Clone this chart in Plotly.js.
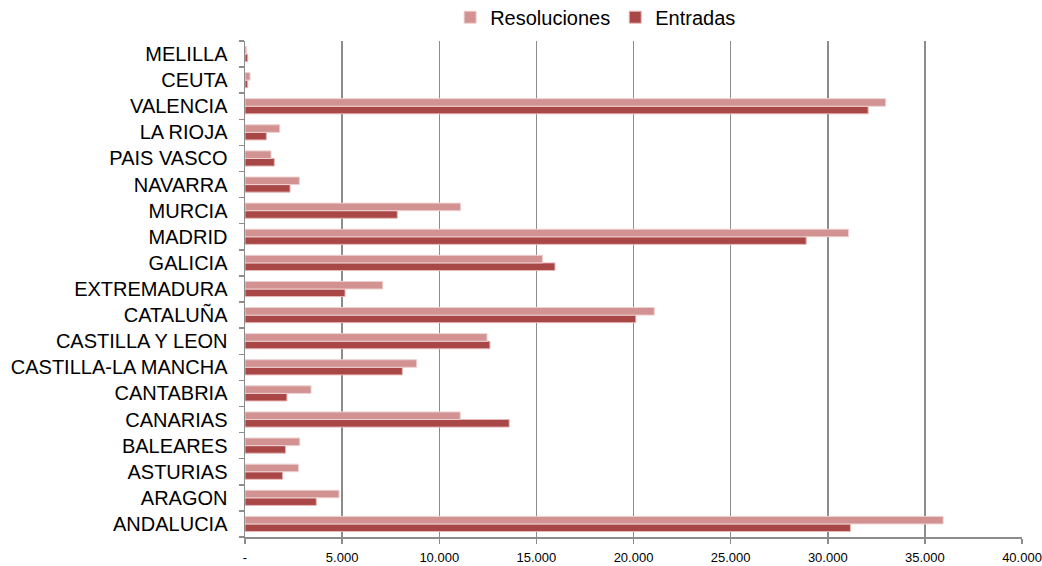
<!DOCTYPE html>
<html>
<head>
<meta charset="utf-8">
<script src="https://cdn.plot.ly/plotly-3.0.1.min.js"></script>
<style>body{margin:0;padding:0;background:#fff;}#chart{width:1042px;height:566px;}</style>
</head>
<body>
<div id="chart"></div>
<script>
const categories = ["ANDALUCIA","ARAGON","ASTURIAS","BALEARES","CANARIAS","CANTABRIA","CASTILLA-LA MANCHA","CASTILLA Y LEON","CATALUÑA","EXTREMADURA","GALICIA","MADRID","MURCIA","NAVARRA","PAIS VASCO","LA RIOJA","VALENCIA","CEUTA","MELILLA"];
const resoluciones = [35940,4840,2750,2820,11080,3400,8840,12460,21070,7090,15320,31070,11100,2800,1340,1790,32980,260,80];
const entradas = [31170,3670,1940,2090,13600,2160,8100,12610,20120,5150,15960,28890,7840,2320,1510,1100,32080,140,140];
const xTickVals = [0,5000,10000,15000,20000,25000,30000,35000,40000];
const xTickText = ["-","5.000","10.000","15.000","20.000","25.000","30.000","35.000","40.000"];

const traces = [
  {type:"bar", orientation:"h", name:"Entradas", y:categories, x:entradas,
   marker:{color:"#A94646", line:{color:"#E8B8B8", width:1}}},
  {type:"bar", orientation:"h", name:"Resoluciones", y:categories, x:resoluciones,
   marker:{color:"#D29292", line:{color:"#EDD0D0", width:1}}}
];

const layout = {
  width:1042, height:566,
  margin:{l:245, r:20, t:41, b:29, autoexpand:false},
  paper_bgcolor:"#fff", plot_bgcolor:"#fff",
  font:{family:"Liberation Sans, Arial, sans-serif", color:"#000"},
  barmode:"group", bargap:0.42, bargroupgap:0,
  showlegend:true,
  legend:{orientation:"h", traceorder:"reversed", x:0.264, xanchor:"left", y:1.048, yanchor:"middle",
          font:{size:20, color:"#000"}, itemwidth:30, bgcolor:"rgba(0,0,0,0)"},
  xaxis:{range:[0,40000], tickvals:xTickVals, ticktext:xTickText, tickfont:{size:13},
         showgrid:true, gridcolor:"#8C8C8C", gridwidth:1.5, zeroline:false,
         showline:true, linecolor:"#8C8C8C", linewidth:1.5, ticks:"outside", ticklen:5, tickcolor:"#8C8C8C", tickwidth:1.5,
         ticklabelstandoff:3, fixedrange:true},
  yaxis:{type:"category", categoryorder:"array", categoryarray:categories, tickfont:{size:20},
         showgrid:false, showline:true, linecolor:"#8C8C8C", linewidth:1.5,
         ticks:"outside", tickson:"boundaries", ticklen:5, tickcolor:"#8C8C8C", tickwidth:1.5,
         ticklabelstandoff:12, automargin:false, fixedrange:true}
};

Plotly.newPlot("chart", traces, layout, {displayModeBar:false, staticPlot:true});
</script>
</body>
</html>
